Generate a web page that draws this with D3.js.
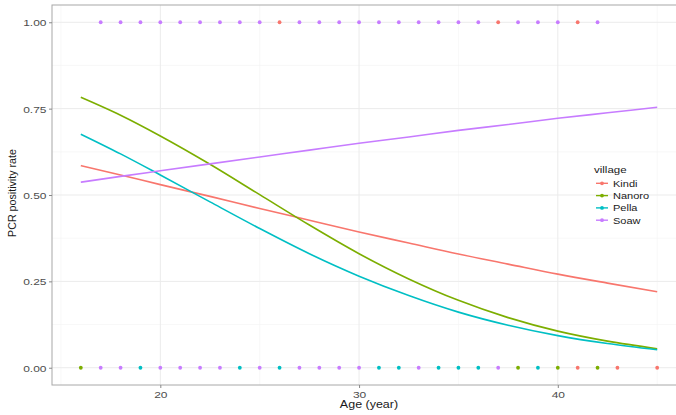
<!DOCTYPE html>
<html>
<head>
<meta charset="utf-8">
<script src="https://cdn.jsdelivr.net/npm/d3@7"></script>
<style>
  html, body { margin: 0; padding: 0; background: #fff; }
  svg { display: block; font-family: "Liberation Sans", Arial, sans-serif; }
</style>
</head>
<body>
<div id="chart"></div>
<script>
// fitted curves at these ages
const ages = [16, 18, 20, 22.5, 25, 27.5, 30, 32.5, 35, 37.5, 40, 42.5, 45];
const kindiFit  = [0.585, 0.558, 0.530, 0.496, 0.461, 0.427, 0.393, 0.361, 0.329, 0.300, 0.271, 0.245, 0.220];
const nanoroFit = [0.783, 0.731, 0.671, 0.589, 0.501, 0.413, 0.330, 0.257, 0.195, 0.145, 0.106, 0.077, 0.055];
const pellaFit  = [0.676, 0.619, 0.558, 0.480, 0.403, 0.330, 0.265, 0.209, 0.161, 0.123, 0.093, 0.070, 0.052];
const soawFit   = [0.537, 0.554, 0.570, 0.590, 0.610, 0.630, 0.650, 0.668, 0.687, 0.704, 0.722, 0.738, 0.754];

// visible raw observations (age) per village, positive (1) and negative (0)
const kindiPos  = [26, 37, 41];
const kindiNeg  = [41, 43, 45];
const nanoroPos = [];
const nanoroNeg = [16, 38, 40, 42];
const pellaPos  = [];
const pellaNeg  = [19, 24, 26, 31, 32, 34, 35, 36, 39];
const soawPos   = [17, 18, 19, 20, 21, 22, 23, 24, 25, 27, 28, 29, 30, 31, 32, 33, 34, 35, 36, 38, 39, 40, 42];
const soawNeg   = [17, 18, 20, 21, 22, 23, 25, 27, 28, 29, 30, 33, 37];

const villages = ['Kindi', 'Nanoro', 'Pella', 'Soaw'];
const colors = ['#F8766D', '#7CAE00', '#00BFC4', '#C77CFF'];
const fits = [kindiFit, nanoroFit, pellaFit, soawFit];
const positives = [kindiPos, nanoroPos, pellaPos, soawPos];
const negatives = [kindiNeg, nanoroNeg, pellaNeg, soawNeg];

const xTicks = [20, 30, 40];
const xMinor = [15, 25, 35, 45];
const yTicks = [0, 0.25, 0.5, 0.75, 1];
const yMinor = [0.125, 0.375, 0.625, 0.875];

const W = 676, H = 415;
const pLeft = 52, pTop = 5, pRight = 686, pBottom = 385;
const squash = 'scale(1,0.82)'; // source picture is a bit flattened vertically

const svg = d3.select('#chart').append('svg')
  .attr('width', W).attr('height', H);

const x = d3.scaleLinear().domain([14.55, 46.45]).range([pLeft, pRight]);
const y = d3.scaleLinear().domain([-0.05, 1.05]).range([pBottom, pTop]);

// grid
const grid = svg.append('g');
grid.selectAll('.xminor').data(xMinor).enter().append('line')
  .attr('x1', d => x(d)).attr('x2', d => x(d)).attr('y1', pTop).attr('y2', pBottom)
  .attr('stroke', '#f4f4f4').attr('stroke-width', 0.6);
grid.selectAll('.yminor').data(yMinor).enter().append('line')
  .attr('x1', pLeft).attr('x2', pRight).attr('y1', d => y(d)).attr('y2', d => y(d))
  .attr('stroke', '#f4f4f4').attr('stroke-width', 0.6);
grid.selectAll('.xmajor').data(xTicks).enter().append('line')
  .attr('x1', d => x(d)).attr('x2', d => x(d)).attr('y1', pTop).attr('y2', pBottom)
  .attr('stroke', '#ebebeb').attr('stroke-width', 1);
grid.selectAll('.ymajor').data(yTicks).enter().append('line')
  .attr('x1', pLeft).attr('x2', pRight).attr('y1', d => y(d)).attr('y2', d => y(d))
  .attr('stroke', '#ebebeb').attr('stroke-width', 1);

// points
villages.forEach((v, i) => {
  const pts = positives[i].map(a => ({ age: a, val: 1 }))
    .concat(negatives[i].map(a => ({ age: a, val: 0 })));
  svg.append('g').selectAll('circle').data(pts).enter().append('circle')
    .attr('cx', d => x(d.age)).attr('cy', d => y(d.val))
    .attr('r', 1.9).attr('fill', colors[i]);
});

// fitted lines
const line = d3.line()
  .x(d => x(d[0])).y(d => y(d[1]))
  .curve(d3.curveMonotoneX);
villages.forEach((v, i) => {
  svg.append('path')
    .datum(ages.map((a, j) => [a, fits[i][j]]))
    .attr('d', line)
    .attr('fill', 'none')
    .attr('stroke', colors[i])
    .attr('stroke-width', 1.6);
});

// panel border
svg.append('rect')
  .attr('x', pLeft).attr('y', pTop)
  .attr('width', pRight - pLeft).attr('height', pBottom - pTop)
  .attr('fill', 'none').attr('stroke', '#a8a8a8').attr('stroke-width', 1);

// axes
const xAxis = svg.append('g')
  .attr('transform', `translate(0,${pBottom})`)
  .call(d3.axisBottom(x).tickValues(xTicks).tickSize(3));
const yAxis = svg.append('g')
  .attr('transform', `translate(${pLeft},0)`)
  .call(d3.axisLeft(y).tickValues(yTicks).tickSize(3)
    .tickFormat(d3.format('.2f')));
[xAxis, yAxis].forEach(ax => {
  ax.select('.domain').remove();
  ax.selectAll('line').attr('stroke', '#888');
  ax.selectAll('text')
    .attr('fill', '#4d4d4d')
    .style('font-size', '12px')
    .style('font-family', '"Liberation Sans", Arial, sans-serif')
    .attr('x', null).attr('y', null).attr('dy', null);
});
xAxis.selectAll('text').attr('transform', 'translate(0,12.8) ' + squash);
yAxis.selectAll('text').attr('transform', 'translate(-5.5,3.6) ' + squash);

// axis titles
svg.append('text')
  .attr('transform', `translate(${(pLeft + pRight) / 2},408) scale(1,0.8)`)
  .attr('text-anchor', 'middle')
  .style('font-size', '12.5px').attr('fill', '#1a1a1a')
  .text('Age (year)');
svg.append('text')
  .attr('transform', `translate(16,193) rotate(-90) scale(0.93,1)`)
  .attr('text-anchor', 'middle')
  .style('font-size', '11.5px').attr('fill', '#1a1a1a')
  .text('PCR positivity rate');

// legend
const legend = svg.append('g').attr('transform', 'translate(594,0)');
legend.append('text')
  .attr('transform', 'translate(0,173) scale(1,0.8)')
  .style('font-size', '11.5px').attr('fill', '#1a1a1a')
  .text('village');
villages.forEach((v, i) => {
  const ly = 183.3 + i * 12.3;
  legend.append('line')
    .attr('x1', 2).attr('x2', 14).attr('y1', ly).attr('y2', ly)
    .attr('stroke', colors[i]).attr('stroke-width', 1.4);
  legend.append('circle')
    .attr('cx', 8).attr('cy', ly).attr('r', 1.9).attr('fill', colors[i]);
  legend.append('text')
    .attr('transform', `translate(19,${ly + 3.4}) scale(1,0.8)`)
    .style('font-size', '11px').attr('fill', '#1a1a1a')
    .text(v);
});
</script>
</body>
</html>
